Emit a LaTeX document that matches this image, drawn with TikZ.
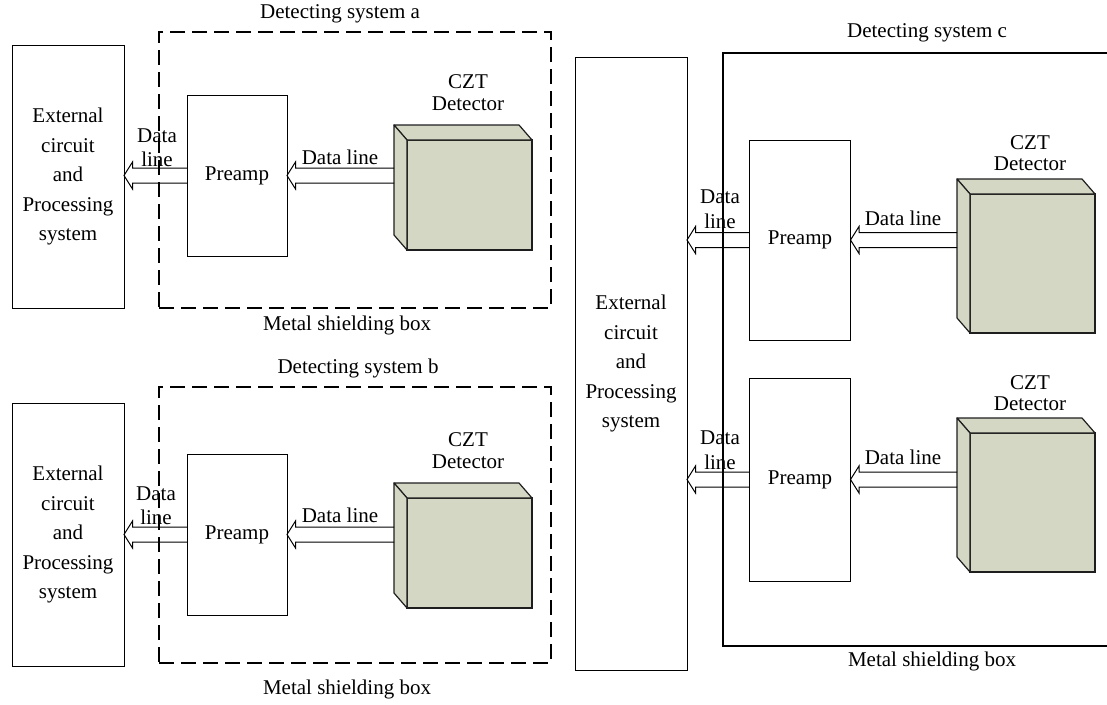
\documentclass[tikz,border=0pt]{standalone}
\usepackage{fontspec}
\setmainfont{Liberation Serif}
\usetikzlibrary{calc,positioning}
\definecolor{cztfill}{HTML}{D3D7C4}
\definecolor{cztedge}{HTML}{1E1E1E}
\tikzset{
  blk/.style={rectangle, draw=black, line width=1pt, inner sep=0pt, outer sep=0pt,
              align=center, font=\fontsize{21}{29.5}\selectfont},
  shieldbox/.style={rectangle, draw=black, line width=1.8pt, dash pattern=on 15pt off 7pt,
              inner sep=0pt, outer sep=0pt},
  wall/.style={draw=black, line width=1.2pt},
  czt/.style={rectangle, draw=cztedge, line width=1.2pt, fill=cztfill, inner sep=0pt,
              outer sep=0pt, minimum width=125pt},
  cztface/.style={draw=cztedge, line width=1.2pt, fill=cztfill, line join=round},
  lbl/.style={font=\fontsize{21}{24.5}\selectfont, align=center, inner sep=0pt},
  cztlbl/.style={lbl, font=\fontsize{21}{21.5}\selectfont},
  dataflow/.style={draw=black, line width=1pt, line join=miter, to path={
    let \p1=(\tikztostart), \p2=(\tikztotarget) in
    (\x1,\y1+7.5pt) -- (\x2+8.5pt,\y1+7.5pt) -- (\x2+8.5pt,\y1+13.5pt) -- (\x2,\y1)
    -- (\x2+8.5pt,\y1-13.5pt) -- (\x2+8.5pt,\y1-7.5pt) -- (\x1,\y1-7.5pt)}}
}
\begin{document}
\begin{tikzpicture}[x=1pt, y=-1pt]
\useasboundingbox (0,0) rectangle (1107,704);

% system a
\node[blk, minimum width=112pt, minimum height=263pt] (exta) at (68,176.5)
  {External\\circuit\\and\\Processing\\system};
\node[shieldbox, minimum width=392pt, minimum height=276pt] (shda) at (355,170) {};
\node[blk, minimum width=100pt, minimum height=161pt] (pa) at (237,175.5) {Preamp};
\node[lbl] (tsa) at (340,14) {Detecting system a};
\node[lbl] (msa) at (347,325) {Metal shielding box};

% system b
\node[blk, minimum width=112pt, minimum height=263pt] (extb) at (68,534.5)
  {External\\circuit\\and\\Processing\\system};
\node[shieldbox, minimum width=392pt, minimum height=276pt] (shdb) at (355,525) {};
\node[blk, minimum width=100pt, minimum height=161pt] (pb) at (237,534.5) {Preamp};
\node[lbl] (tsb) at (358,368) {Detecting system b};
\node[lbl] (msb) at (347,689) {Metal shielding box};

% system c
\node[blk, minimum width=112pt, minimum height=613pt] (extc) at (631,363.5)
  {External\\circuit\\and\\Processing\\system};
\draw[wall] (1110,53) -- (723,53) -- (723,646) -- (1110,646);
\node[blk, minimum width=101pt, minimum height=200pt] (pc) at (800,240) {Preamp};
\node[blk, minimum width=101pt, minimum height=203pt] (pd) at (800,479.5) {Preamp};
\node[lbl] (tsc) at (927,33) {Detecting system c};
\node[lbl] (msc) at (932,661) {Metal shielding box};

% detectors
\foreach \n/\cx/\cy/\h in {a/469.5/195/110, b/469.5/553/110, c/1032.5/263.5/139, d/1032.5/502.5/139}{
  \node[czt, minimum height=\h pt] (cz\n) at (\cx,\cy) {};
  \path[cztface] (cz\n.north west) -- ++(-13,-15) -- ($(cz\n.north east)+(-13,-15)$)
    -- (cz\n.north east) -- cycle;
  \path[cztface] (cz\n.north west) -- ++(-13,-15) -- ($(cz\n.south west)+(-13,-15)$)
    -- (cz\n.south west) -- cycle;
  \coordinate (cz\n-back) at ($(cz\n.west)+(-13,-7.5)$);
}
\node[cztlbl] (dta) at (468,92.5) {CZT\\Detector};
\node[cztlbl] (dtb) at (468,450.5) {CZT\\Detector};
\node[cztlbl] (dtc) at (1030,153) {CZT\\Detector};
\node[cztlbl] (dtd) at (1030,393) {CZT\\Detector};

% data lines
\draw[dataflow] (pa.west) to (exta.east |- pa.west);
\draw[dataflow] (cza-back |- pa.east) to (pa.east);
\draw[dataflow] (pb.west) to (extb.east |- pb.west);
\draw[dataflow] (czb-back |- pb.east) to (pb.east);
\draw[dataflow] (pc.west) to (extc.east |- pc.west);
\draw[dataflow] (czc-back |- pc.east) to (pc.east);
\draw[dataflow] (pd.west) to (extc.east |- pd.west);
\draw[dataflow] (czd-back |- pd.east) to (pd.east);

\node[lbl] (dla) at (157,147.5) {Data\\line};
\node[lbl] (dlb) at (156,505.5) {Data\\line};
\node[lbl] (dlc) at (720,209) {Data\\line};
\node[lbl] (dld) at (720,450) {Data\\line};
\node[lbl] (dia) at (340,157) {Data line};
\node[lbl] (dib) at (340,515) {Data line};
\node[lbl] (dic) at (903,218) {Data line};
\node[lbl] (did) at (903,457) {Data line};
\end{tikzpicture}
\end{document}
